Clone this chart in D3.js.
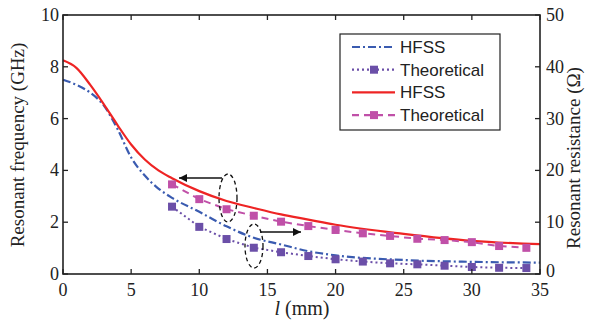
<!DOCTYPE html>
<html>
<head>
<meta charset="utf-8">
<script src="https://cdn.jsdelivr.net/npm/d3@7"></script>
<style>
  body { margin: 0; background: #fff; }
  text { font-family: "Liberation Serif", "Times New Roman", serif; }
</style>
</head>
<body>
<script>
// l (mm) sample points
const hfssL = [0, 1, 2, 3, 4, 5, 6, 7, 8, 10, 12, 14, 16, 18, 20, 25, 30, 35]
// red: resonant frequency HFSS (GHz)
const freqHfss = [8.25, 7.95, 7.3, 6.55, 5.75, 5.0, 4.42, 4.0, 3.7, 3.2, 2.82, 2.55, 2.3, 2.1, 1.9, 1.55, 1.28, 1.15]
// blue: resonant resistance HFSS (ohm)
const resHfss = [37.5, 36.5, 35, 32.5, 28, 22.5, 19, 16.5, 14.7, 12, 9.2, 7, 5.7, 4.4, 3.6, 2.7, 2.35, 2.2]

const theoL = [8, 10, 12, 14, 16, 18, 20, 22, 24, 26, 28, 30, 32, 34]
const freqTheo = [3.46, 2.89, 2.5, 2.25, 2.02, 1.85, 1.7, 1.57, 1.47, 1.36, 1.31, 1.23, 1.08, 1.01]
const resTheo = [13, 9.1, 6.75, 5.07, 4.2, 3.47, 2.84, 2.4, 2.06, 1.87, 1.6, 1.35, 1.2, 1.15]

const xTicks = [0, 5, 10, 15, 20, 25, 30, 35]
const yTicksL = [0, 2, 4, 6, 8, 10]
const yTicksR = [0, 10, 20, 30, 40, 50]

const W = 594, H = 333
const m = {left: 63, right: 54, top: 15, bottom: 59}

const svg = d3.select("body").append("svg")
  .attr("width", W).attr("height", H)

const x = d3.scaleLinear().domain([0, 35]).range([m.left, W - m.right])
const yL = d3.scaleLinear().domain([0, 10]).range([H - m.bottom, m.top])
const yR = d3.scaleLinear().domain([0, 50]).range([H - m.bottom, m.top])

const cBlue = "#3a5bb0", cPurple = "#6b4fa8", cRed = "#ee2424", cPink = "#c050a8"

// curves
const lineF = d3.line().x(d => x(d[0])).y(d => yL(d[1])).curve(d3.curveMonotoneX)
const lineR = d3.line().x(d => x(d[0])).y(d => yR(d[1])).curve(d3.curveMonotoneX)
const lineFlin = d3.line().x(d => x(d[0])).y(d => yL(d[1]))
const lineRlin = d3.line().x(d => x(d[0])).y(d => yR(d[1]))

const g = svg.append("g")

g.append("path").datum(hfssL.map((l, i) => [l, resHfss[i]]))
  .attr("d", lineR).attr("fill", "none").attr("stroke", cBlue)
  .attr("stroke-width", 2.2).attr("stroke-dasharray", "8,3,2,3")

g.append("path").datum(theoL.map((l, i) => [l, resTheo[i]]))
  .attr("d", lineRlin).attr("fill", "none").attr("stroke", cPurple)
  .attr("stroke-width", 2).attr("stroke-dasharray", "2,3")

g.append("path").datum(hfssL.map((l, i) => [l, freqHfss[i]]))
  .attr("d", lineF).attr("fill", "none").attr("stroke", cRed)
  .attr("stroke-width", 2.2)

g.append("path").datum(theoL.map((l, i) => [l, freqTheo[i]]))
  .attr("d", lineFlin).attr("fill", "none").attr("stroke", cPink)
  .attr("stroke-width", 2).attr("stroke-dasharray", "7,5")

const sq = 8
g.selectAll(".sqR").data(theoL.map((l, i) => [l, resTheo[i]])).join("rect")
  .attr("x", d => x(d[0]) - sq/2).attr("y", d => yR(d[1]) - sq/2)
  .attr("width", sq).attr("height", sq).attr("fill", cPurple)
g.selectAll(".sqF").data(theoL.map((l, i) => [l, freqTheo[i]])).join("rect")
  .attr("x", d => x(d[0]) - sq/2).attr("y", d => yL(d[1]) - sq/2)
  .attr("width", sq).attr("height", sq).attr("fill", cPink)

// axes box
const ax = svg.append("g")
const fontTick = 18
ax.append("rect").attr("x", x(0)).attr("y", yL(10))
  .attr("width", x(35) - x(0)).attr("height", yL(0) - yL(10))
  .attr("fill", "none").attr("stroke", "#222").attr("stroke-width", 1.6)

const tl = 5
xTicks.forEach(t => {
  ax.append("line").attr("x1", x(t)).attr("x2", x(t)).attr("y1", yL(0)).attr("y2", yL(0) - tl).attr("stroke", "#222").attr("stroke-width", 1.3)
  ax.append("line").attr("x1", x(t)).attr("x2", x(t)).attr("y1", yL(10)).attr("y2", yL(10) + tl).attr("stroke", "#222").attr("stroke-width", 1.3)
  ax.append("text").attr("x", x(t)).attr("y", yL(0) + 22).attr("text-anchor", "middle")
    .attr("font-size", fontTick).attr("fill", "#222").text(t)
})
yTicksL.forEach(t => {
  ax.append("line").attr("x1", x(0)).attr("x2", x(0) + tl).attr("y1", yL(t)).attr("y2", yL(t)).attr("stroke", "#222").attr("stroke-width", 1.3)
  ax.append("text").attr("x", x(0) - 4).attr("y", yL(t) + 6).attr("text-anchor", "end")
    .attr("font-size", fontTick).attr("fill", "#222").text(t)
})
yTicksR.forEach(t => {
  ax.append("line").attr("x1", x(35)).attr("x2", x(35) - tl).attr("y1", yR(t)).attr("y2", yR(t)).attr("stroke", "#222").attr("stroke-width", 1.3)
  ax.append("text").attr("x", x(35) + 6).attr("y", yR(t) + (t === 0 ? 3 : 6)).attr("text-anchor", "start")
    .attr("font-size", fontTick).attr("fill", "#222").text(t)
})

// axis titles
svg.append("text").attr("transform", "translate(24,145) rotate(-90)")
  .attr("text-anchor", "middle").attr("font-size", 19).attr("fill", "#222")
  .text("Resonant frequency (GHz)")
svg.append("text").attr("transform", "translate(580,158) rotate(-90)")
  .attr("text-anchor", "middle").attr("font-size", 19).attr("fill", "#222")
  .text("Resonant resistance (Ω)")
const xt = svg.append("text").attr("x", 302).attr("y", 315)
  .attr("text-anchor", "middle").attr("font-size", 20).attr("fill", "#222")
xt.append("tspan").attr("font-style", "italic").text("l")
xt.append("tspan").text(" (mm)")

// arrows and ellipses
const defs = svg.append("defs")
defs.append("marker").attr("id", "ah").attr("viewBox", "0 0 10 10")
  .attr("refX", 10).attr("refY", 5).attr("markerWidth", 12).attr("markerHeight", 8)
  .attr("markerUnits", "userSpaceOnUse").attr("orient", "auto")
  .append("path").attr("d", "M0,0L10,5L0,10Z").attr("fill", "#111")

svg.append("line").attr("x1", 222).attr("x2", 179).attr("y1", 178).attr("y2", 178)
  .attr("stroke", "#111").attr("stroke-width", 1.6).attr("marker-end", "url(#ah)")
svg.append("line").attr("x1", 260).attr("x2", 301).attr("y1", 232).attr("y2", 232)
  .attr("stroke", "#111").attr("stroke-width", 1.6).attr("marker-end", "url(#ah)")
svg.append("ellipse").attr("cx", 228).attr("cy", 198).attr("rx", 9).attr("ry", 24)
  .attr("fill", "none").attr("stroke", "#111").attr("stroke-width", 1.3).attr("stroke-dasharray", "4,3")
svg.append("ellipse").attr("cx", 254).attr("cy", 246).attr("rx", 9).attr("ry", 22)
  .attr("fill", "none").attr("stroke", "#111").attr("stroke-width", 1.3).attr("stroke-dasharray", "4,3")

// legend
const legendItems = [
  {label: "HFSS", color: cBlue, dash: "8,3,2,3", marker: false},
  {label: "Theoretical", color: cPurple, dash: "2,3", marker: true},
  {label: "HFSS", color: cRed, dash: null, marker: false},
  {label: "Theoretical", color: cPink, dash: "7,5", marker: true}
]
const lg = svg.append("g")
lg.append("rect").attr("x", 340).attr("y", 34).attr("width", 160).attr("height", 96)
  .attr("fill", "#fff").attr("stroke", "#222").attr("stroke-width", 1.2)
legendItems.forEach((d, i) => {
  const yy = 47 + i * 22.7
  lg.append("line").attr("x1", 352).attr("x2", 395).attr("y1", yy).attr("y2", yy)
    .attr("stroke", d.color).attr("stroke-width", 2.2)
    .attr("stroke-dasharray", d.dash)
  if (d.marker) lg.append("rect").attr("x", 374 - sq/2).attr("y", yy - sq/2)
    .attr("width", sq).attr("height", sq).attr("fill", d.color)
  lg.append("text").attr("x", 400).attr("y", yy + 6).attr("font-size", 17)
    .attr("fill", "#222").style("font-family", "'Liberation Sans', Arial, sans-serif")
    .text(d.label)
})
</script>
</body>
</html>
